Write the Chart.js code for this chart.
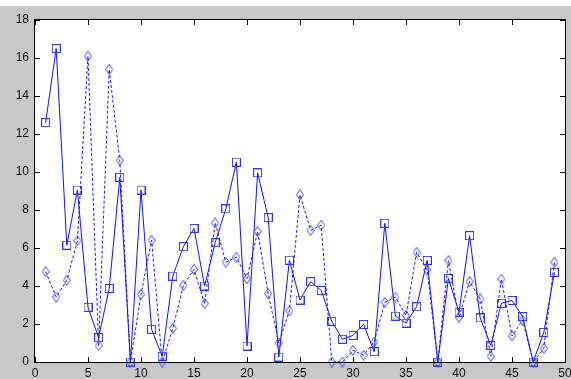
<!DOCTYPE html>
<html><head><meta charset="utf-8">
<script src="https://cdn.jsdelivr.net/npm/chart.js@4"></script>
<style>
html,body{margin:0;padding:0;background:#c8c8c8;overflow:hidden;}
canvas{display:block;}
</style></head><body>
<canvas id="c" width="571" height="379"></canvas>
<script>
const xValues = [1,2,3,4,5,6,7,8,9,10,11,12,13,14,15,16,17,18,19,20,21,22,23,24,25,26,27,28,29,30,31,32,33,34,35,36,37,38,39,40,41,42,43,44,45,46,47,48,49];
const seriesSolid = [12.6,16.5,6.15,9.05,2.88,1.28,3.87,9.72,0,9.05,1.72,0.3,4.52,6.07,7.03,4.0,6.28,8.06,10.52,0.84,9.96,7.6,0.26,5.36,3.26,4.23,3.76,2.14,1.2,1.4,1.98,0.54,7.3,2.42,2.05,2.91,5.35,0,4.4,2.62,6.65,2.32,0.88,3.09,3.24,2.39,0,1.56,4.72];
const seriesDashed = [4.75,3.42,4.3,6.38,16.1,0.86,15.4,10.6,0,3.55,6.41,0,1.77,4.03,4.87,3.07,7.32,5.25,5.52,4.39,6.87,3.6,1.0,2.69,8.8,6.93,7.2,0,0,0.62,0.36,1.05,3.14,3.42,2.45,5.77,4.84,0,5.33,2.36,4.24,3.32,0.3,4.36,1.37,2.21,0,0.72,5.25];
const xTickStep = 5, xMin = 0, xMax = 50;
const yTickStep = 2, yMin = 0, yMax = 18;

function makeSquare(){
  const c = document.createElement('canvas'); c.width = 9; c.height = 9;
  const g = c.getContext('2d'); g.strokeStyle = '#3434ff'; g.lineWidth = 1;
  g.strokeRect(0.5,0.5,8,8); return c;
}
function makeDiamond(){
  const c = document.createElement('canvas'); c.width = 8; c.height = 11;
  const g = c.getContext('2d'); g.strokeStyle = '#4040ff'; g.lineWidth = 1;
  g.beginPath(); g.moveTo(4,0.5); g.lineTo(7.5,5.5); g.lineTo(4,10.5); g.lineTo(0.5,5.5); g.closePath(); g.stroke(); return c;
}

const bgPlugin = {
  id:'bg',
  beforeDraw(chart){
    const ctx = chart.ctx, a = chart.chartArea;
    ctx.save();
    ctx.fillStyle = '#c8c8c8'; ctx.fillRect(0,0,chart.width,chart.height);
    ctx.fillStyle = '#ffffff'; ctx.fillRect(0,0,chart.width,6);
    ctx.fillRect(a.left,a.top,a.right-a.left,a.bottom-a.top);
    ctx.restore();
  },
  afterDraw(chart){
    const ctx = chart.ctx, a = chart.chartArea, xs = chart.scales.x, ys = chart.scales.y;
    ctx.save();
    ctx.strokeStyle = '#000'; ctx.lineWidth = 1;
    ctx.strokeRect(Math.round(a.left)-0.5, Math.round(a.top)-0.5, Math.round(a.right-a.left)+1, Math.round(a.bottom-a.top)+1);
    ctx.beginPath();
    xs.ticks.forEach(t=>{
      const px = Math.round(xs.getPixelForValue(t.value))+0.5;
      ctx.moveTo(px,a.bottom); ctx.lineTo(px,a.bottom-5);
      ctx.moveTo(px,a.top); ctx.lineTo(px,a.top+5);
    });
    ys.ticks.forEach(t=>{
      const py = Math.round(ys.getPixelForValue(t.value))+0.5;
      ctx.moveTo(a.left,py); ctx.lineTo(a.left+5,py);
      ctx.moveTo(a.right,py); ctx.lineTo(a.right-5,py);
    });
    ctx.stroke();
    ctx.restore();
  }
};

const sq = makeSquare(), dm = makeDiamond();
new Chart(document.getElementById('c'), {
  type:'line',
  data:{
    datasets:[
      {data: xValues.map((x,i)=>({x, y: seriesDashed[i]})), borderColor:'#1a1aff', borderWidth:1, borderDash:[3,2],
       pointStyle: dm, pointRadius:5, clip:false, fill:false, tension:0},
      {data: xValues.map((x,i)=>({x, y: seriesSolid[i]})), borderColor:'#1010ff', borderWidth:1,
       pointStyle: sq, pointRadius:5, clip:false, fill:false, tension:0}
    ]
  },
  options:{
    responsive:false, animation:false, devicePixelRatio:1,
    layout:{padding:{top:20,right:4,left:0,bottom:0}},
    plugins:{legend:{display:false}, tooltip:{enabled:false}},
    elements:{point:{hoverRadius:5}},
    scales:{
      x:{type:'linear', min:xMin, max:xMax,
         grid:{display:false, drawTicks:false}, border:{display:false},
         ticks:{stepSize:xTickStep, padding:4, color:'#111', font:{family:'Liberation Sans', size:12}, maxRotation:0, autoSkip:false},
         afterFit(s){ s.height = 17; s.paddingLeft = 0; s.paddingRight = 0; }},
      y:{min:yMin, max:yMax,
         grid:{display:false, drawTicks:false}, border:{display:false},
         ticks:{stepSize:yTickStep, padding:6, color:'#111', font:{family:'Liberation Sans', size:12}},
         afterFit(s){ s.width = 35; s.paddingTop = 0; s.paddingBottom = 0; }}
    }
  },
  plugins:[bgPlugin]
});
</script>
</body></html>
